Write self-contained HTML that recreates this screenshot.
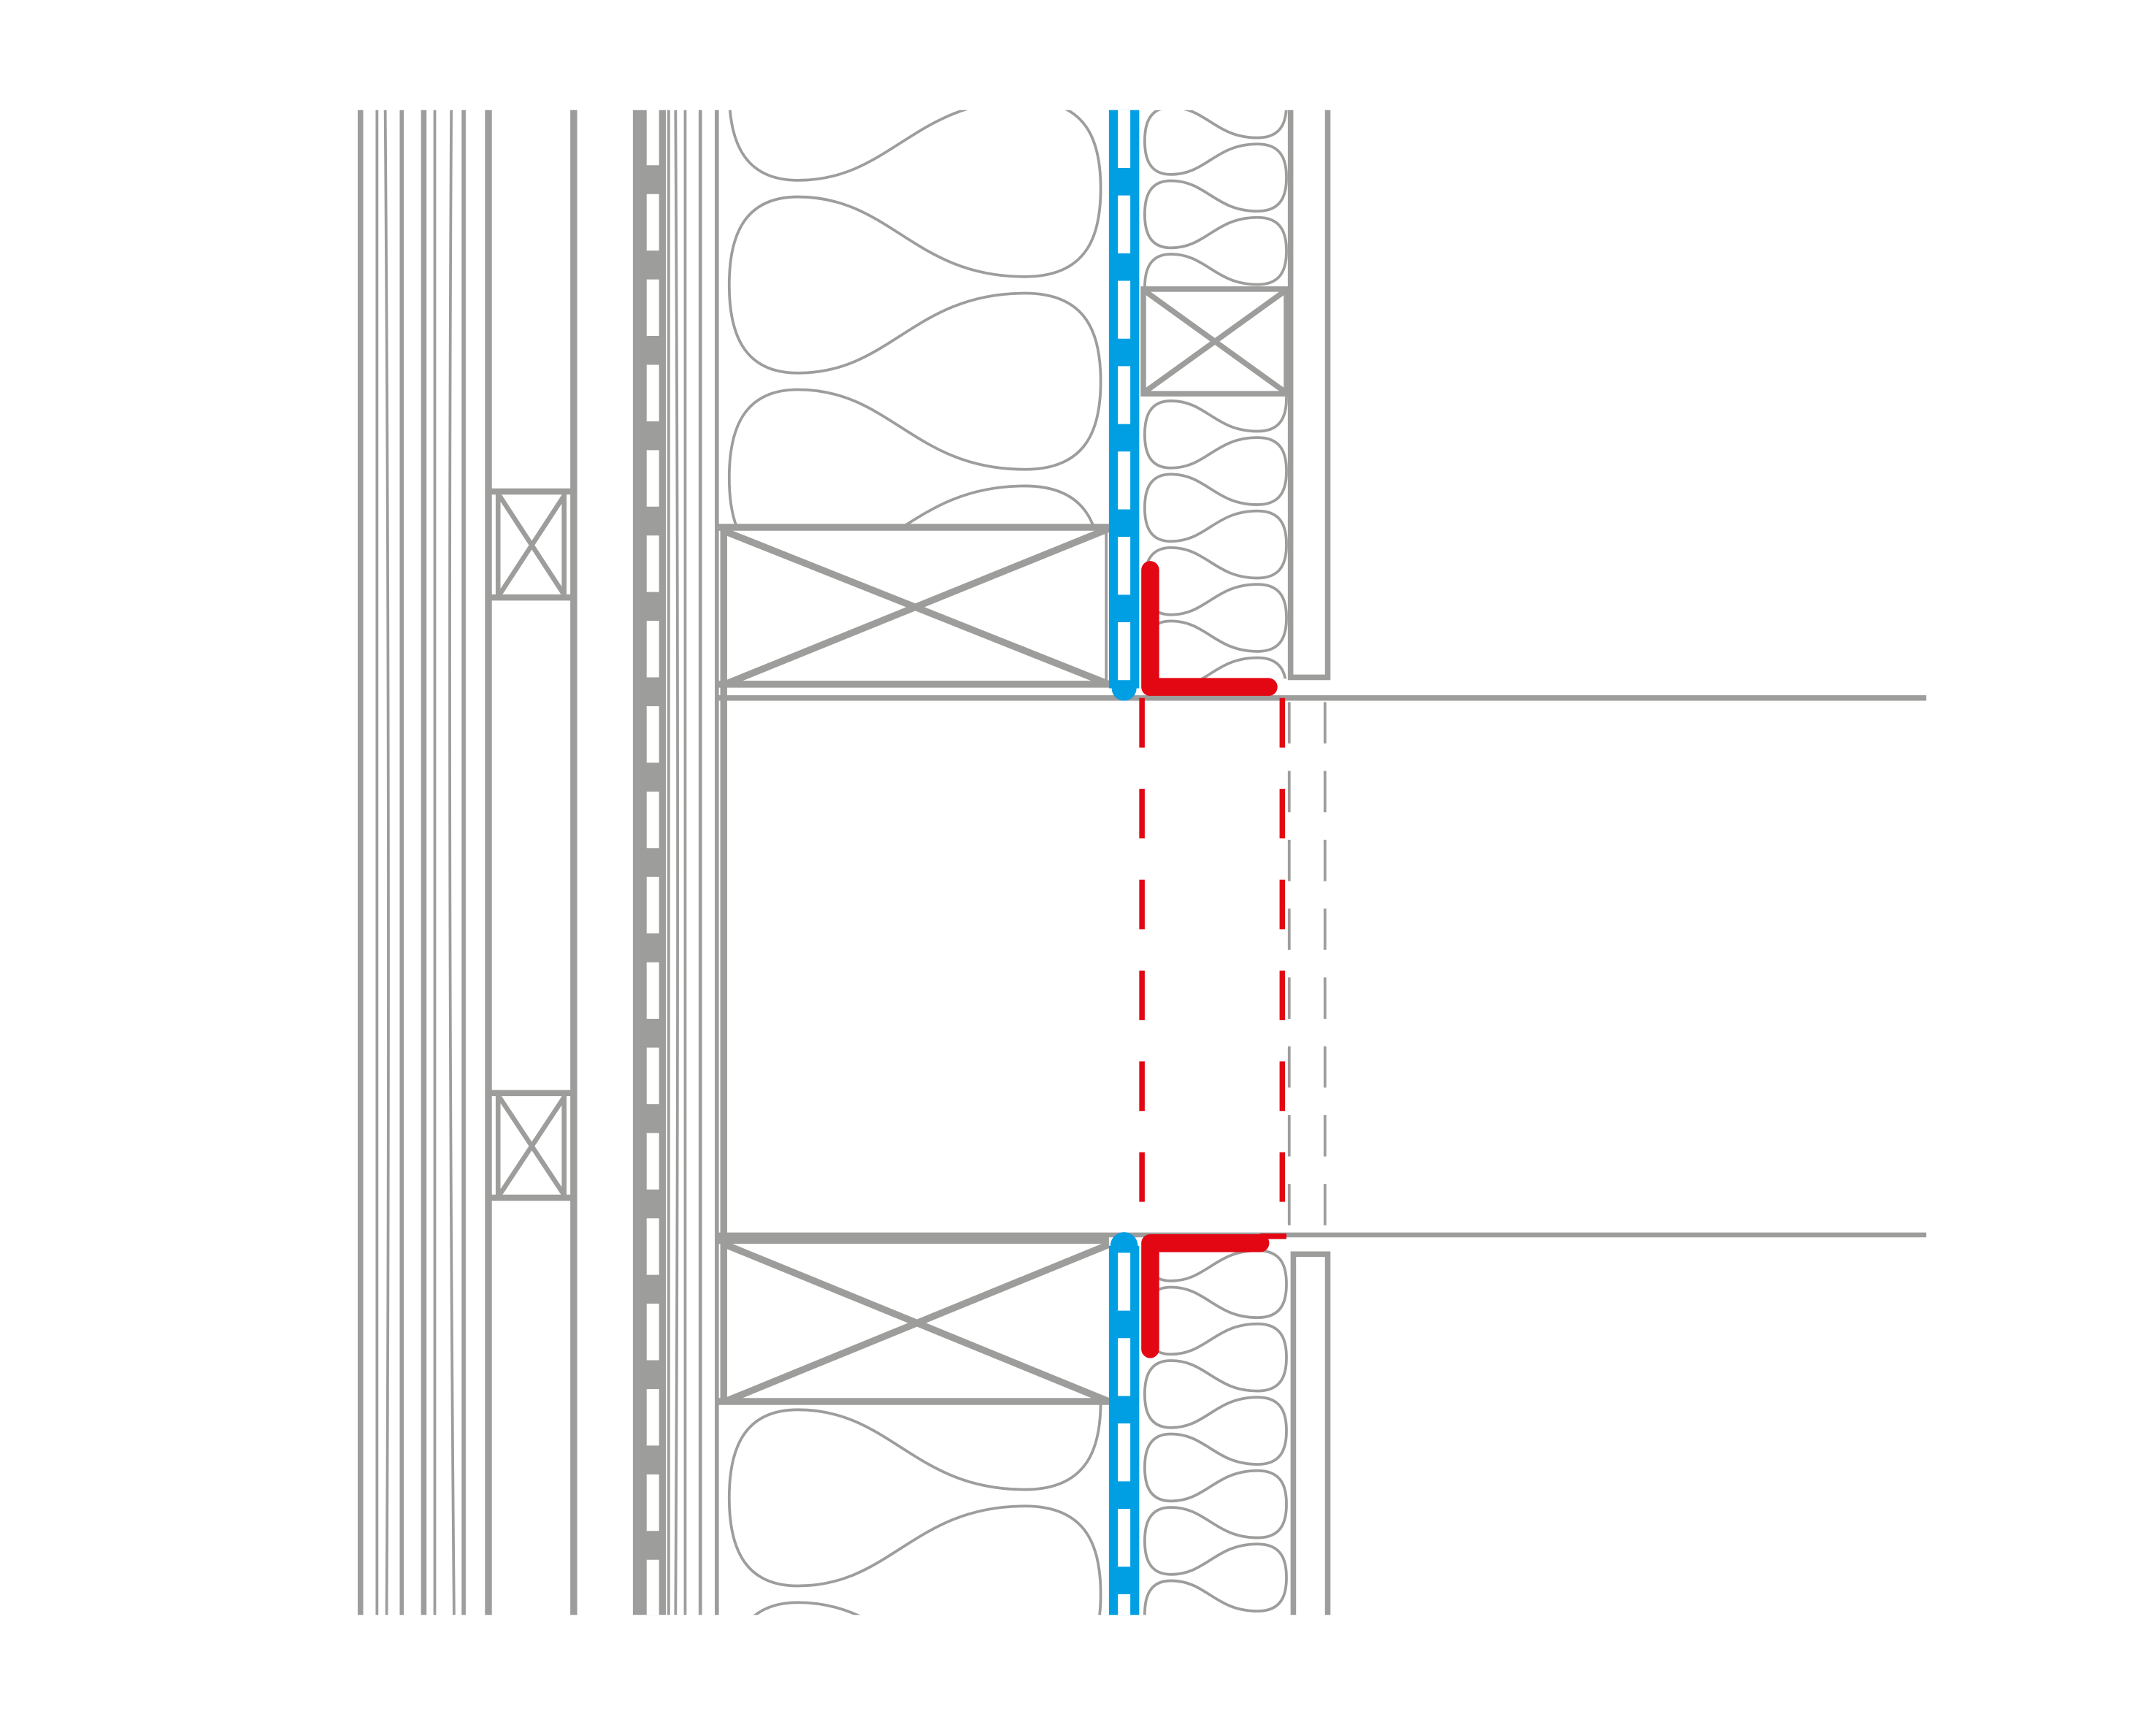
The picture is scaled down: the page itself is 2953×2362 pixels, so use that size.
<!DOCTYPE html>
<html><head><meta charset="utf-8"><style>html,body{margin:0;padding:0;background:#fff;width:2953px;height:2362px;overflow:hidden}svg{display:block}</style></head>
<body>
<svg id="s" xmlns="http://www.w3.org/2000/svg" width="2953" height="2362" viewBox="0 0 1567 1253" preserveAspectRatio="none">
<defs>
<clipPath id="c1"><rect x="524" y="80" width="282" height="302"/></clipPath>
<clipPath id="c2"><rect x="524" y="1020" width="282" height="153"/></clipPath>
<clipPath id="c3"><rect x="828" y="80" width="110" height="129"/><rect x="828" y="287" width="110" height="206"/></clipPath>
<clipPath id="c4"><rect x="828" y="905" width="110" height="268"/></clipPath>
</defs>
<g id="ins" fill="none" stroke="#9d9d9c" stroke-width="2"></g>
<g stroke="#9d9d9c" fill="none">
<line x1="262" y1="80" x2="262" y2="1173" stroke-width="4"/>
<line x1="274" y1="80" x2="274" y2="1173" stroke-width="2"/>
<path d="M280 80 Q284 620 281 1173" stroke-width="2"/>
<line x1="292" y1="80" x2="292" y2="1173" stroke-width="3"/>
<line x1="308" y1="80" x2="308" y2="1173" stroke-width="4"/>
<line x1="316" y1="80" x2="316" y2="1173" stroke-width="2"/>
<path d="M328 80 Q325 620 330 1173" stroke-width="2"/>
<line x1="337" y1="80" x2="337" y2="1173" stroke-width="3"/>
<line x1="355" y1="80" x2="355" y2="1173" stroke-width="5"/>
<line x1="417" y1="80" x2="417" y2="1173" stroke-width="5"/>
<g stroke-width="4.5"><line x1="355" y1="357" x2="417" y2="357"/><line x1="355" y1="434" x2="417" y2="434"/>
<line x1="355" y1="794" x2="417" y2="794"/><line x1="355" y1="870" x2="417" y2="870"/></g>
<g stroke-width="3.5">
<path d="M362 359 L362 432 M410 359 L410 432 M363 360 L410 432 M410 360 L363 432"/>
<path d="M362 796 L362 868 M410 796 L410 868 M363 797 L410 868 M410 797 L363 868"/>
</g>
<line x1="486" y1="80" x2="486" y2="1173" stroke-width="2"/>
<path d="M491 80 Q494 620 491 1173" stroke-width="2"/>
<line x1="498" y1="80" x2="498" y2="1173" stroke-width="2"/>
<line x1="509" y1="80" x2="509" y2="1173" stroke-width="2.5"/>
<line x1="521" y1="80" x2="521" y2="1173" stroke-width="3"/>
<line x1="526" y1="382" x2="526" y2="1018" stroke-width="5"/>
<g stroke-width="5">
<line x1="522" y1="383" x2="806" y2="383"/><line x1="522" y1="497" x2="806" y2="497"/>
<line x1="527" y1="386" x2="806" y2="497"/><line x1="527" y1="497" x2="806" y2="384"/>
<line x1="522" y1="901" x2="806" y2="901"/><line x1="522" y1="1018" x2="806" y2="1018"/>
<line x1="527" y1="904" x2="806" y2="1018"/><line x1="527" y1="1018" x2="806" y2="904"/>
</g>
<line x1="804" y1="384" x2="804" y2="497" stroke-width="2"/>
<line x1="522" y1="507" x2="1400" y2="507" stroke-width="4"/>
<line x1="522" y1="897" x2="1400" y2="897" stroke-width="3.5"/>
<rect x="831" y="210" width="104" height="76" stroke-width="4"/>
<path d="M833 212 L933 284 M933 212 L833 284" stroke-width="4"/>
<path d="M938 80 L938 492 L965 492 L965 80" stroke-width="4"/>
<path d="M940 1173 L940 911 L965 911 L965 1173" stroke-width="4"/>
<line x1="937" y1="510" x2="937" y2="895" stroke-width="2" stroke-dasharray="30 20"/>
<line x1="963" y1="510" x2="963" y2="895" stroke-width="2" stroke-dasharray="30 20"/>
</g>
<rect x="460" y="80" width="24" height="1093" fill="#9d9d9c"/>
<line x1="474.5" y1="79" x2="474.5" y2="1173" stroke="#fff" stroke-width="9" stroke-dasharray="41 21"/>
<g stroke="#009fe3">
<line x1="817" y1="80" x2="817" y2="500" stroke-width="22"/>
<circle cx="817" cy="500" r="9" fill="#009fe3" stroke="none"/>
<line x1="817" y1="905" x2="817" y2="1173" stroke-width="22"/>
<circle cx="817" cy="905" r="10" fill="#009fe3" stroke="none"/>
</g>
<line x1="817" y1="80" x2="817" y2="500" stroke="#fff" stroke-width="9" stroke-dasharray="42 20"/>
<line x1="817" y1="910" x2="817" y2="1173" stroke="#fff" stroke-width="9" stroke-dasharray="42 20"/>
<g stroke="#e30613" fill="none">
<path d="M836 414 L836 499 L922 499" stroke-width="13" stroke-linecap="round" stroke-linejoin="round"/>
<path d="M836 980 L836 903 L916 903" stroke-width="13" stroke-linecap="round" stroke-linejoin="round"/>
<line x1="830" y1="507" x2="830" y2="895" stroke-width="4" stroke-dasharray="36 30"/>
<line x1="932" y1="507" x2="932" y2="895" stroke-width="4" stroke-dasharray="36 30"/>
<line x1="916" y1="898" x2="935" y2="898" stroke-width="4"/>
</g>
</svg>
<script>
function batt(x0,x1,P,y0,yEnd){
  var W=x1-x0,a=x0+0.185*W,b=x1-0.204*W,h=0.914*P,d="",y=y0;
  d="M"+a+","+y;
  while(y<yEnd){
    d+=" C"+(x0+0.037*W)+","+y+" "+x0+","+(y+0.21*P)+" "+x0+","+(y+h/2);
    d+=" C"+x0+","+(y+h-0.21*P)+" "+(x0+0.037*W)+","+(y+h)+" "+a+","+(y+h);
    d+=" C"+(a+0.25*W)+","+(y+h)+" "+(b-0.3*W)+","+(y+0.5*P)+" "+b+","+(y+0.5*P);
    var r=y+0.5*P;
    d+=" C"+(x1-0.037*W)+","+r+" "+x1+","+(r+0.21*P)+" "+x1+","+(r+h/2);
    d+=" C"+x1+","+(r+h-0.21*P)+" "+(x1-0.037*W)+","+(r+h)+" "+b+","+(r+h);
    d+=" C"+(b-0.3*W)+","+(r+h)+" "+(a+0.25*W)+","+(y+P)+" "+a+","+(y+P);
    y+=P;
  }
  return d;
}
var g=document.getElementById("ins"),ns="http://www.w3.org/2000/svg";
function add(d,c){var p=document.createElementNS(ns,"path");p.setAttribute("d",d);p.setAttribute("clip-path","url(#"+c+")");g.appendChild(p);}
add(batt(530,800,140,3,400),"c1");
add(batt(530,800,140,744,1200),"c2");
add(batt(832,935,53.3,78-53.3*2,500),"c3");
add(batt(832,935,53.3,935-53.3*2,1200),"c4");
</script>
</body></html>
